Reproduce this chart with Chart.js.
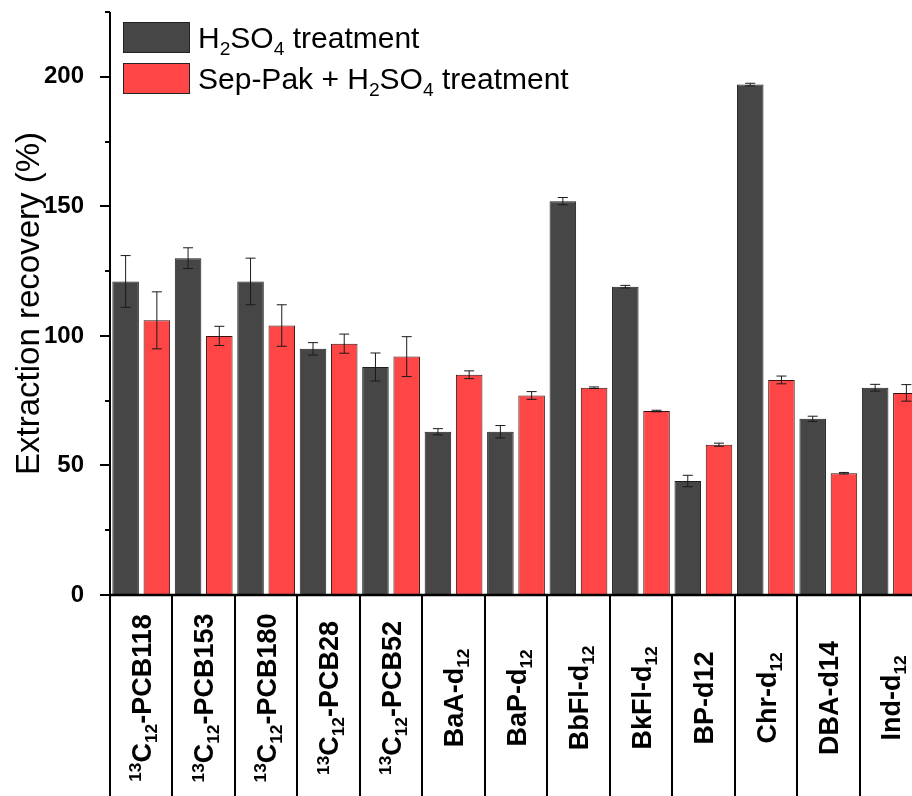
<!DOCTYPE html>
<html>
<head>
<meta charset="utf-8">
<script src="https://cdn.jsdelivr.net/npm/chart.js@4.4.1/dist/chart.umd.min.js"></script>
<style>
  html, body { margin: 0; padding: 0; background: #fff; overflow: hidden; }
  #wrap { width: 912px; height: 796px; overflow: hidden; }
  canvas { display: block; }
</style>
</head>
<body>
<div id="wrap"><canvas id="chart" width="922" height="796"></canvas></div>
<script>
// Category labels: ^n = superscript, _n = subscript
var categories = [
  '^13C_12-PCB118', '^13C_12-PCB153', '^13C_12-PCB180', '^13C_12-PCB28', '^13C_12-PCB52',
  'BaA-d_12', 'BaP-d_12', 'BbFl-d_12', 'BkFl-d_12', 'BP-d12', 'Chr-d_12', 'DBA-d14', 'Ind-d_12'
];
var seriesNames = ['H_2SO_4 treatment', 'Sep-Pak + H_2SO_4 treatment'];

// H2SO4 treatment
var acidMean = [121, 130, 121, 95, 88, 63, 63, 152, 119, 44, 197, 68, 80];
var acidErr  = [10, 4, 9, 2.4, 5.4, 1.2, 2.4, 1.4, 0.5, 2.2, 0.5, 1, 1.3];

// Sep-Pak + H2SO4 treatment
var sepMean = [106, 100, 104, 97, 92, 85, 77, 80, 71, 58, 83, 47, 78];
var sepErr  = [11, 3.7, 8, 3.7, 7.7, 1.5, 1.5, 0.3, 0.3, 0.6, 1.5, 0.3, 3.2];

var yTicks = [0, 50, 100, 150, 200];

var FONT = 'Arial, "Liberation Sans", sans-serif';
Chart.defaults.font.family = FONT;

// split "^13C_12-PCB118" into pieces with a mode
function parseRich(s) {
  var parts = [];
  var re = /(\^\d+|_\d+|[^\^_]+)/g, m;
  while ((m = re.exec(s)) !== null) {
    var t = m[0];
    if (t[0] === '^') parts.push({ t: t.slice(1), mode: 'sup' });
    else if (t[0] === '_') parts.push({ t: t.slice(1), mode: 'sub' });
    else parts.push({ t: t, mode: '' });
  }
  return parts;
}

function fontFor(mode, size, weight) {
  var s = mode ? size * 0.64 : size;
  return weight + ' ' + s + 'px ' + FONT;
}

function richWidth(ctx, parts, size, weight) {
  var w = 0;
  parts.forEach(function(p) {
    ctx.font = fontFor(p.mode, size, weight);
    w += ctx.measureText(p.t).width;
  });
  return w;
}

// draws left to right from x, y = baseline
function drawRich(ctx, parts, x, y, size, weight) {
  ctx.textAlign = 'left';
  ctx.textBaseline = 'alphabetic';
  parts.forEach(function(p) {
    ctx.font = fontFor(p.mode, size, weight);
    var dy = 0;
    if (p.mode === 'sub') dy = size * 0.22;
    if (p.mode === 'sup') dy = -size * 0.36;
    ctx.fillText(p.t, x, y + dy);
    x += ctx.measureText(p.t).width;
  });
}

var errorBars = {
  id: 'errorBars',
  afterDatasetsDraw: function(chart) {
    var ctx = chart.ctx;
    var yScale = chart.scales.y;
    ctx.save();
    ctx.strokeStyle = '#1a1a1a';
    ctx.lineWidth = 1;
    chart.data.datasets.forEach(function(ds, di) {
      var meta = chart.getDatasetMeta(di);
      meta.data.forEach(function(bar, i) {
        var v = ds.data[i], e = ds.errors[i];
        var yTop = yScale.getPixelForValue(v + e);
        var yBot = yScale.getPixelForValue(v - e);
        ctx.beginPath();
        ctx.moveTo(bar.x, yTop); ctx.lineTo(bar.x, yBot);
        ctx.moveTo(bar.x - 5, yTop); ctx.lineTo(bar.x + 5, yTop);
        ctx.moveTo(bar.x - 5, yBot); ctx.lineTo(bar.x + 5, yBot);
        ctx.stroke();
      });
    });
    ctx.restore();
  }
};

var frame = {
  id: 'frame',
  afterDraw: function(chart) {
    var ctx = chart.ctx;
    var area = chart.chartArea;
    var x = chart.scales.x, y = chart.scales.y;
    var H = chart.height;
    ctx.save();
    ctx.strokeStyle = '#000';

    // y ticks (major every 50, minor every 25)
    ctx.lineWidth = 2;
    for (var v = 0; v <= y.max; v += 25) {
      var py = Math.round(y.getPixelForValue(v));
      var len = v % 50 === 0 ? 10 : 5;
      ctx.beginPath();
      ctx.moveTo(area.left - len, py); ctx.lineTo(area.left, py);
      ctx.stroke();
    }

    // category separators running down through the label area
    var half = (x.getPixelForValue(1) - x.getPixelForValue(0)) / 2;
    for (var i = 0; i <= categories.length; i++) {
      var px = Math.round(x.getPixelForValue(i) - half);
      ctx.beginPath();
      ctx.moveTo(px, area.bottom); ctx.lineTo(px, H);
      ctx.stroke();
    }

    // y axis line
    ctx.beginPath();
    ctx.moveTo(area.left, area.top); ctx.lineTo(area.left, H);
    ctx.stroke();

    // baseline
    ctx.lineWidth = 2.5;
    ctx.beginPath();
    ctx.moveTo(area.left, area.bottom); ctx.lineTo(area.right, area.bottom);
    ctx.stroke();

    // rotated category labels
    ctx.fillStyle = '#000';
    var size = 27;
    categories.forEach(function(lbl, i) {
      var parts = parseRich(lbl);
      var w = richWidth(ctx, parts, size, 'bold');
      ctx.save();
      ctx.translate(x.getPixelForValue(i), 698);
      ctx.rotate(-Math.PI / 2);
      drawRich(ctx, parts, -w / 2, size * 0.36, size, 'bold');
      ctx.restore();
    });

    // legend
    var lsize = 30;
    var boxes = [22, 63];
    chart.data.datasets.forEach(function(ds, di) {
      var by = boxes[di];
      ctx.fillStyle = ds.backgroundColor;
      ctx.fillRect(123, by, 67, 31);
      ctx.lineWidth = 1;
      ctx.strokeStyle = '#222';
      ctx.strokeRect(123.5, by + 0.5, 66, 30);
      ctx.fillStyle = '#000';
      drawRich(ctx, parseRich(seriesNames[di]), 198, by + 15.5 + lsize * 0.36, lsize, 'normal');
    });
    ctx.restore();
  }
};

new Chart(document.getElementById('chart'), {
  type: 'bar',
  data: {
    labels: categories,
    datasets: [
      {
        label: seriesNames[0],
        data: acidMean,
        errors: acidErr,
        backgroundColor: '#464646',
        borderColor: '#1e1e1e',
        borderWidth: 1
      },
      {
        label: seriesNames[1],
        data: sepMean,
        errors: sepErr,
        backgroundColor: '#ff4646',
        borderColor: '#3a1010',
        borderWidth: 1
      }
    ]
  },
  options: {
    responsive: false,
    animation: false,
    devicePixelRatio: 1,
    categoryPercentage: 1,
    barPercentage: 0.85,
    layout: { padding: { top: 12, bottom: 201, left: 0, right: 0 } },
    plugins: {
      legend: { display: false },
      tooltip: { enabled: false }
    },
    scales: {
      x: {
        grid: { display: false },
        border: { display: false },
        ticks: { display: false },
        afterFit: function(s) { s.height = 0; s.paddingLeft = 0; s.paddingRight = 0; }
      },
      y: {
        min: 0,
        max: 225,
        grid: { display: false },
        border: { display: false },
        ticks: {
          stepSize: 25,
          padding: 18,
          color: '#000',
          font: { size: 24, weight: 'bold' },
          callback: function(v) { return yTicks.indexOf(v) >= 0 ? String(v) : ''; }
        },
        title: {
          display: true,
          text: 'Extraction recovery (%)',
          color: '#000',
          font: { size: 33, weight: 'normal' },
          padding: { top: 10, bottom: 0 }
        },
        afterFit: function(s) { s.width = 110; s.paddingTop = 0; s.paddingBottom = 0; }
      }
    }
  },
  plugins: [errorBars, frame]
});
</script>
</body>
</html>
